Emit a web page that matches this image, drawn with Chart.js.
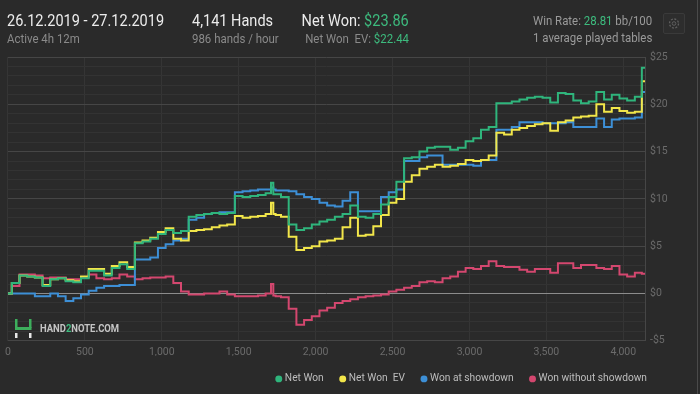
<!DOCTYPE html>
<html>
<head>
<meta charset="utf-8">
<title>Hand2Note graph</title>
<script src="https://cdn.jsdelivr.net/npm/chart.js@4.4.1/dist/chart.umd.min.js"></script>
<style>
    html, body { margin: 0; padding: 0; background: #2a2a2a; }
    body { width: 700px; height: 394px; position: relative; overflow: hidden; font-family: Roboto, 'Noto Sans', sans-serif; }
    #chart { position: absolute; left: 0; top: 0; }
    .hdr { position: absolute; white-space: pre; transform: scaleX(0.88); transform-origin: left top; }
    .hdr.right { transform-origin: right top; text-align: right; }
    .big { font-size: 16.5px; line-height: 16.5px; color: #ececec; }
    .small { font-size: 13px; line-height: 13px; color: #8a8a8a; }
    .green { color: #3dbb7e; }
    .gear { position: absolute; left: 663px; top: 13px; width: 20px; height: 19px; border: 1px solid #3a3a3a; border-radius: 2px; background: #2d2d2d; }
    .edge { position: absolute; left: 697px; top: 0; width: 1px; height: 394px; background: #4a4a4a; }
    .logo { position: absolute; left: 15px; top: 319px; }
    .brand { position: absolute; left: 40px; top: 324px; font-size: 10.5px; line-height: 10.5px; font-weight: bold; color: #c4c4c4; white-space: pre; transform: scaleX(0.9); transform-origin: left top; }
</style>
</head>
<body>

<canvas id="chart" width="700" height="394"></canvas>

<!-- header stats -->
<div class="hdr big" style="left:7px; top:13px;">26.12.2019 - 27.12.2019</div>
<div class="hdr small" style="left:7px; top:32px;">Active 4h 12m</div>
<div class="hdr big" style="left:192px; top:13px;">4,141 Hands</div>
<div class="hdr small" style="left:192px; top:32px;">986 hands / hour</div>
<div class="hdr big right" style="right:291px; top:13px;">Net Won: <span class="green">$23.86</span></div>
<div class="hdr small right" style="right:291px; top:32px;">Net Won  EV: <span class="green">$22.44</span></div>
<div class="hdr small" style="left:533px; top:14px; color:#9a9a9a;">Win Rate: <span class="green">28.81</span> bb/100</div>
<div class="hdr small" style="left:533px; top:31px; color:#9a9a9a;">1 average played tables</div>
<div class="gear">
    <svg width="20" height="19" viewBox="0 0 20 19">
        <circle cx="10" cy="9.5" r="4.5" fill="none" stroke="#5e5e5e" stroke-width="1.3" stroke-dasharray="2 1.5"/>
        <circle cx="10" cy="9.5" r="1.8" fill="none" stroke="#5e5e5e" stroke-width="1"/>
    </svg>
</div>
<div class="edge"></div>

<!-- watermark -->
<svg class="logo" width="18" height="19" viewBox="0 0 18 19">
    <rect x="0" y="0" width="2.5" height="11" fill="#3dae5c"/>
    <rect x="14" y="0" width="2.5" height="9" fill="#3dae5c"/>
    <polygon points="0,8 16.5,8 16.5,11 0,11" fill="#3dae5c"/>
    <rect x="0" y="14" width="2.5" height="5" fill="#e8e8e8"/>
    <rect x="14" y="14" width="2.5" height="5" fill="#e8e8e8"/>
</svg>
<div class="brand">HAND<span class="green">2</span>NOTE.COM</div>

<script>
// Hands played (x) and cumulative results in $ per series
const hands = [0, 50, 100, 150, 200, 250, 300, 350, 400, 450,
    500, 550, 600, 650, 700, 750, 800, 850, 900, 950,
    1000, 1050, 1100, 1150, 1200, 1250, 1300, 1350, 1400, 1450,
    1500, 1550, 1600, 1650, 1700, 1720, 1730, 1750, 1800, 1850, 1900, 1950,
    2000, 2050, 2100, 2150, 2200, 2250, 2300, 2350, 2400, 2450,
    2500, 2550, 2600, 2650, 2700, 2750, 2800, 2850, 2900, 2950,
    3000, 3050, 3100, 3150, 3200, 3250, 3300, 3350, 3400, 3450,
    3500, 3550, 3600, 3650, 3700, 3750, 3800, 3850, 3900, 3950,
    4000, 4050, 4100, 4141];

const netWon = [0, 1.1, 1.9, 1.8, 1.7, 0.8, 1.5, 1.6, 1.3, 1.2,
    1.6, 2.4, 2.4, 1.9, 2.7, 3.1, 2.6, 5.3, 5.5, 5.8,
    6.3, 6.7, 6.4, 6.6, 8.1, 8.3, 8.4, 8.5, 8.4, 8.5,
    10.3, 10.2, 10.3, 10.4, 10.6, 11.7, 10.5, 10.5, 10.2, 7.3, 6.7, 6.9,
    7.3, 7.6, 7.8, 8.1, 8.4, 9.3, 8.1, 8.0, 8.4, 9.4,
    10.2, 11.8, 14.3, 14.4, 15.0, 15.4, 15.5, 15.5, 15.2, 15.4,
    16.1, 16.4, 17.3, 17.6, 20.1, 20.1, 20.3, 20.5, 20.7, 20.8,
    20.7, 20.2, 21.2, 21.1, 20.4, 20.1, 20.3, 21.3, 20.5, 21.0,
    20.6, 20.4, 20.8, 23.86];

const netWonEv = [0, 1.1, 1.9, 1.8, 1.7, 0.9, 1.5, 1.6, 1.4, 1.3,
    1.8, 2.6, 2.6, 2.1, 2.9, 3.3, 2.8, 5.4, 5.6, 5.9,
    6.5, 6.9, 5.8, 5.6, 6.6, 6.7, 6.8, 7.0, 7.2, 7.3,
    8.2, 8.0, 8.1, 8.2, 8.4, 9.6, 8.4, 8.3, 8.1, 6.0, 4.6, 4.8,
    5.0, 5.5, 5.6, 5.8, 7.0, 8.0, 6.1, 6.2, 7.1, 8.3,
    9.6, 10.0, 11.8, 12.5, 13.2, 13.4, 13.6, 13.4, 13.5, 13.7,
    14.1, 14.0, 14.1, 14.6, 17.0, 16.8, 17.3, 17.5, 17.7, 17.9,
    18.0, 17.2, 18.1, 18.3, 18.6, 18.7, 18.8, 20.0, 19.2, 19.6,
    19.3, 19.1, 19.2, 22.44];

const wonShowdown = [0, 0, 0, 0, -0.3, -0.3, 0, -0.3, -0.8, -0.5,
    -0.1, 0.3, 0.6, 0.8, 0.8, 0.9, 0.9, 3.6, 3.6, 3.8,
    4.8, 5.2, 5.6, 5.8, 7.8, 8.0, 8.4, 8.5, 8.6, 8.6,
    10.7, 10.8, 10.9, 11.0, 11.0, 11.2, 11.0, 10.9, 10.9, 10.8, 10.5, 10.2,
    10.0, 9.6, 9.3, 9.2, 9.8, 10.7, 8.7, 8.7, 8.7, 10.2,
    10.7, 11.0, 14.0, 14.0, 14.4, 14.6, 14.6, 13.6, 13.6, 13.6,
    13.6, 13.5, 14.1, 14.1, 17.3, 17.3, 17.6, 18.1, 18.1, 18.1,
    18.0, 18.0, 18.0, 18.1, 17.6, 17.6, 17.6, 18.5, 17.6, 18.4,
    18.5, 18.5, 18.6, 21.3];

const wonNoShowdown = [0, 0.8, 2.0, 2.0, 1.9, 1.6, 1.7, 1.7, 1.5, 1.5,
    1.7, 2.0, 1.6, 1.5, 1.6, 2.0, 1.8, 1.5, 1.6, 1.7,
    1.7, 1.8, 1.1, 0.2, -0.1, -0.1, 0.0, 0.0, 0.2, -0.1,
    -0.3, -0.3, -0.3, -0.2, 0.0, 1.0, -0.2, -0.3, -0.4, -1.6, -3.3, -2.8,
    -2.4, -1.8, -1.5, -1.0, -0.8, -0.6, -0.4, -0.3, -0.2, -0.1,
    0.2, 0.4, 0.6, 0.8, 1.2, 1.3, 1.2, 1.6, 1.8, 2.3,
    2.7, 2.6, 2.9, 3.4, 2.9, 2.8, 2.8, 2.5, 2.3, 2.6,
    2.6, 2.2, 3.2, 3.2, 2.7, 3.0, 3.0, 2.7, 2.6, 2.9,
    2.0, 1.8, 2.2, 2.1];

const seriesNames = ['Net Won', 'Net Won  EV', 'Won at showdown', 'Won without showdown'];
const seriesColors = ['#2fb57c', '#f2e64a', '#3d8fd6', '#d4476f'];

// axis ticks
const xTicks = [0, 500, 1000, 1500, 2000, 2500, 3000, 3500, 4000];
const xMax = 4141;
const yMin = -5;
const yMax = 25;
const yLabelStep = 5;

function points(values) {
    return hands.map((h, i) => ({ x: h, y: values[i] }));
}

function money(v) {
    return (v < 0 ? '-$' : '$') + Math.abs(v);
}

// push the legend in under the plot's right edge (the y labels sit outside it)
const legendShift = {
    id: 'legendShift',
    afterLayout(chart) {
        const legend = chart.legend;
        if (legend) {
            legend.right = chart.chartArea.right + 21;
            // small slack so the last item is not wrapped onto a hidden row
            legend.lineWidths[0] += 1;
        }
    }
};

const allSeries = [netWon, netWonEv, wonShowdown, wonNoShowdown];

new Chart(document.getElementById('chart'), {
    type: 'line',
    data: {
        datasets: allSeries.map((values, i) => ({
            label: seriesNames[i],
            data: points(values),
            borderColor: seriesColors[i],
            backgroundColor: seriesColors[i],
            borderWidth: 2,
            pointRadius: 0,
            stepped: 'middle',
            fill: false
        }))
    },
    options: {
        responsive: false,
        animation: false,
        devicePixelRatio: 1,
        layout: {
            padding: { top: 57, left: 7, right: 0, bottom: 0 }
        },
        plugins: {
            tooltip: { enabled: false },
            legend: {
                position: 'bottom',
                align: 'end',
                labels: {
                    usePointStyle: true,
                    pointStyle: 'circle',
                    boxWidth: 2,
                    boxHeight: 3.5,
                    padding: 18,
                    color: '#bdbdbd',
                    font: { family: 'Roboto', size: 10.2 }
                }
            }
        },
        scales: {
            x: {
                type: 'linear',
                min: 0,
                max: xMax,
                grid: { color: '#353535', drawTicks: false },
                border: { display: false },
                afterBuildTicks: axis => {
                    axis.ticks = xTicks.map(v => ({ value: v }));
                },
                ticks: {
                    padding: 5,
                    color: '#6b6b6b',
                    font: { family: 'Roboto', size: 10.5 },
                    callback: v => v.toLocaleString('en-US')
                },
                afterFit: scale => { scale.height = 15; }
            },
            y: {
                position: 'right',
                min: yMin,
                max: yMax,
                grid: {
                    drawTicks: false,
                    color: ctx => {
                        const v = ctx.tick.value;
                        if (v === 0) return '#8c8c8c';
                        if (v % yLabelStep === 0) return '#464646';
                        return '#333333';
                    }
                },
                border: { display: true, color: '#464646' },
                ticks: {
                    stepSize: 1,
                    autoSkip: false,
                    padding: 5,
                    color: '#6b6b6b',
                    font: { family: 'Roboto', size: 10.5 },
                    callback: v => (v % yLabelStep === 0 ? money(v) : '')
                },
                afterFit: scale => { scale.width = 55; }
            }
        }
    },
    plugins: [legendShift]
});
</script>
</body>
</html>
